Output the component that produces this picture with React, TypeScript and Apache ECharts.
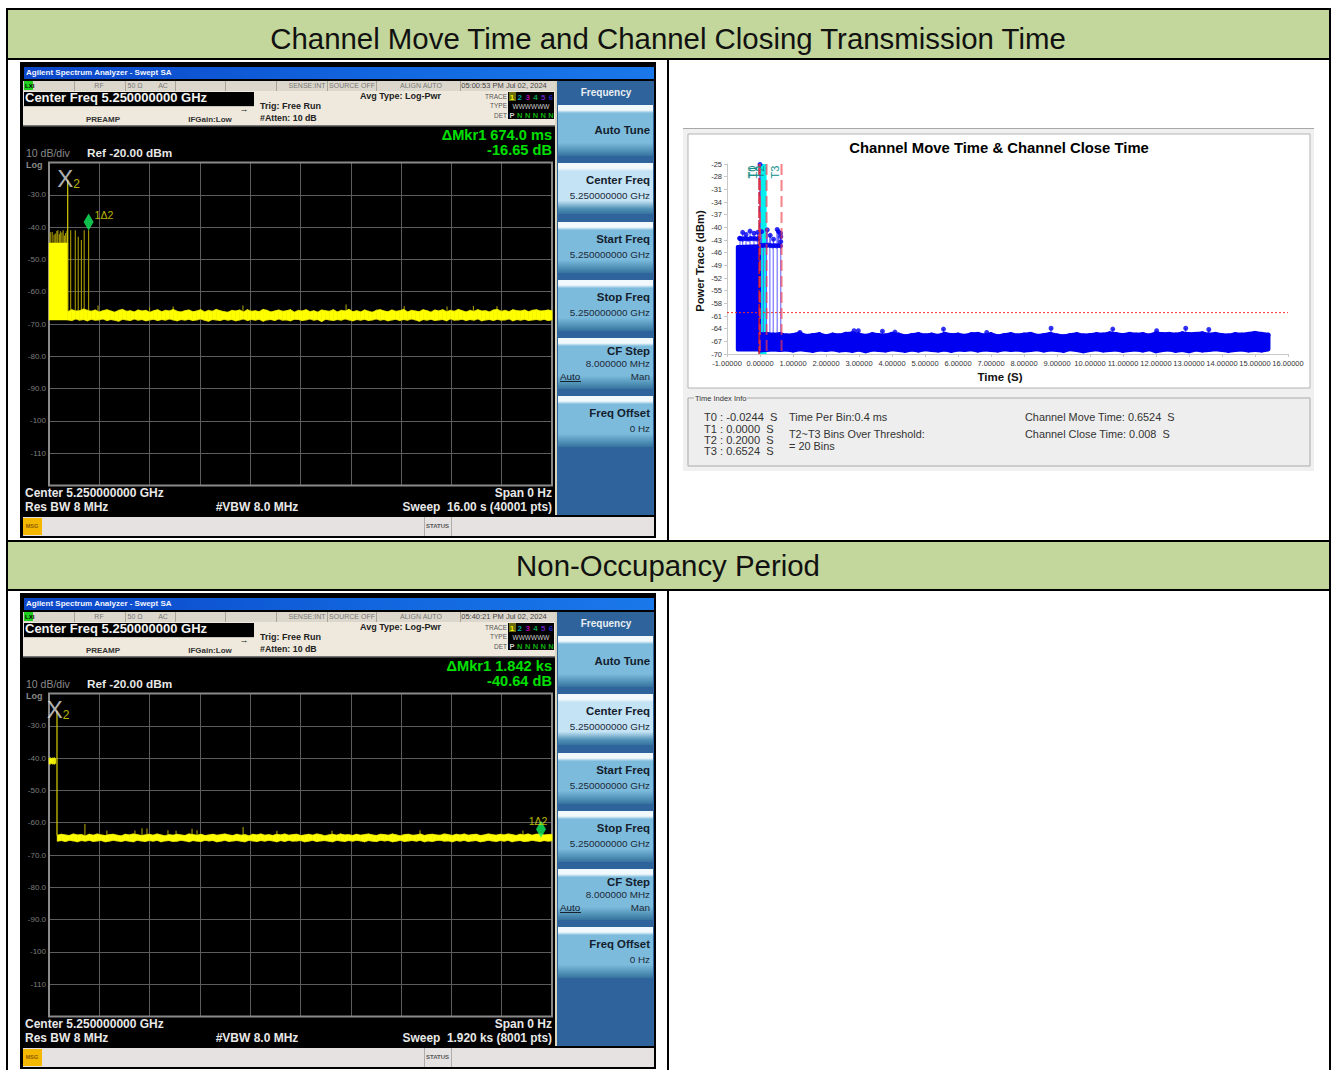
import React, { useEffect, useRef } from "react";
import * as echarts from "echarts";

const FONT = '"Liberation Sans", Arial, sans-serif';

// ---------- Swept-SA trace 1 (dBm vs seconds) ----------
const sweep1Seconds = 16;
const sweep1NoiseStart = 0.6;
const noise1Hi = [
  -66.2,-65.6,-66.0,-65.9,-65.4,-65.8,-66.1,-65.7,-66.3,-65.9,-65.6,-66.0,-66.4,-65.8,-65.5,-66.1,-65.9,-66.3,-65.7,-66.0,
  -65.8,-66.4,-65.9,-65.6,-66.2,-65.8,-66.0,-65.5,-66.1,-66.3,-65.9,-65.7,-66.2,-66.0,-65.6,-66.3,-65.8,-66.1,-65.5,-65.9,
  -66.2,-66.4,-65.8,-66.0,-65.7,-66.3,-65.6,-66.1,-65.9,-66.2,-65.5,-65.8,-66.3,-66.0,-65.7,-66.1,-65.9,-65.6,-66.4,-65.8,
  -66.0,-65.6,-66.2,-65.9,-66.4,-65.7,-65.9,-66.1,-65.6,-66.3,-65.8,-66.0,-65.5,-66.2,-65.9,-66.3,-65.7,-66.1,-66.4,-65.8,
  -65.6,-66.0,-66.2,-65.7,-66.1,-65.9,-65.5,-66.3,-65.8,-66.0,-66.2,-65.6,-65.9,-66.4,-65.7,-66.0,-65.6,-66.2,-65.8,-66.1,
  -65.5,-65.9,-66.3,-65.8,-66.1,-65.6,-66.0,-65.9,-66.3,-65.7,-65.5,-66.1,-65.8,-66.2,-65.6,-65.9,-66.0,-65.7,-66.2,-65.8,
  -65.6,-66.0,-65.9,-65.7,-65.9,
];
const noise1Lo = [
  -68.7,-68.9,-68.4,-68.8,-68.6,-69.0,-68.5,-68.8,-68.7,-68.4,-68.9,-68.6,-68.8,-69.1,-68.5,-68.7,-68.9,-68.4,-68.8,-68.6,
  -69.0,-68.7,-68.5,-68.9,-68.6,-68.8,-68.4,-68.7,-69.0,-68.6,-68.8,-68.5,-68.9,-68.7,-68.4,-68.8,-69.1,-68.6,-68.7,-68.9,
  -68.5,-68.8,-68.6,-69.0,-68.7,-68.4,-68.9,-68.6,-68.8,-68.5,-69.1,-68.7,-68.6,-68.9,-68.4,-68.8,-68.7,-69.0,-68.5,-68.6,
  -68.9,-68.7,-68.4,-68.8,-68.6,-69.2,-68.5,-68.7,-68.9,-68.6,-68.8,-68.4,-68.7,-69.0,-68.6,-68.8,-68.5,-68.9,-68.7,-68.4,
  -68.8,-68.6,-69.0,-68.7,-68.5,-68.9,-68.6,-68.8,-68.4,-68.7,-69.1,-68.6,-68.8,-68.5,-68.9,-68.7,-68.6,-69.0,-68.4,-68.8,
  -68.7,-68.5,-68.9,-68.6,-68.8,-68.4,-69.0,-68.7,-68.6,-68.9,-68.5,-68.8,-68.7,-68.4,-69.0,-68.6,-68.8,-68.5,-68.9,-68.7,
  -68.6,-68.8,-68.5,-68.9,-68.7,
];
// Burst block at the start of the sweep
const block1T = [0, 0.6];
const block1Hi = [-44.9, -44.9];
const block1Lo = [-68.8, -68.8];
const stems1T = [0.04,0.1,0.16,0.2,0.25,0.28,0.33,0.36,0.41,0.45,0.49,0.53,0.57,0.69,0.836,0.93,1.03,1.12,1.26,1.56,3.2,3.95,6.17,9.45,11.3,12.66,13.5,14.25];
const stems1Top = [-41.6,-41.5,-42.4,-42,-41.2,-41,-42.2,-41.3,-41.7,-41,-42.6,-41.8,-41.1,-41,-41,-43,-44,-41,-41,-64.3,-64.8,-64.6,-64.3,-64.0,-64.5,-64.6,-64.4,-64.5];
const stems1Base = [-45,-45,-45,-45,-45,-45,-45,-45,-45,-45,-45,-45,-45,-66,-66,-66,-66,-66,-66,-66,-66,-66,-66,-66,-66,-66,-66,-66];
const marker1X: [number, number, number] = [0.595, -25.4, -66];
const marker1Delta: [number, number] = [1.26, -38.4];

// ---------- Swept-SA trace 2 ----------
const sweep2Seconds = 1920;
const sweep2NoiseStart = 32;
const noise2Hi = [
  -63.9,-63.6,-63.8,-64.0,-63.5,-63.8,-63.7,-64.1,-63.6,-63.9,-63.5,-63.8,-64.0,-63.7,-63.6,-63.9,-64.1,-63.6,-63.8,-63.5,
  -63.7,-64.0,-63.8,-63.6,-63.9,-63.5,-63.8,-64.1,-63.7,-63.9,-63.6,-63.8,-64.0,-63.5,-63.7,-63.9,-63.6,-64.0,-63.8,-63.6,
  -63.9,-63.7,-63.5,-63.8,-64.0,-63.6,-63.9,-63.7,-64.1,-63.6,-63.8,-63.5,-63.9,-63.7,-64.0,-63.6,-63.8,-63.5,-63.9,-63.7,
  -63.6,-64.0,-63.8,-63.6,-63.9,-63.5,-63.7,-64.1,-63.8,-63.6,-63.9,-63.5,-63.8,-63.7,-64.0,-63.6,-63.9,-63.7,-63.5,-63.8,
  -64.0,-63.6,-63.7,-63.9,-63.5,-63.8,-64.1,-63.7,-63.6,-63.9,-63.8,-63.5,-64.0,-63.7,-63.6,-63.8,-63.9,-63.5,-63.7,-64.0,
  -63.6,-63.8,-63.5,-63.9,-63.7,-63.6,-64.0,-63.8,-63.5,-63.7,-63.9,-63.6,-63.8,-63.5,-63.7,-64.0,-63.6,-63.8,-63.5,-63.9,
  -63.6,-63.5,-63.8,-63.7,-63.6,
];
const noise2Lo = [
  -65.7,-65.5,-65.8,-65.4,-65.6,-65.9,-65.5,-65.7,-65.4,-65.8,-65.6,-65.5,-65.9,-65.7,-65.4,-65.6,-65.8,-65.5,-65.7,-65.9,
  -65.4,-65.6,-65.8,-65.5,-65.7,-65.4,-65.9,-65.6,-65.5,-65.8,-65.7,-65.4,-65.6,-65.9,-65.5,-65.7,-65.8,-65.4,-65.6,-65.5,
  -65.9,-65.7,-65.4,-65.8,-65.6,-65.5,-65.7,-65.9,-65.4,-65.6,-65.8,-65.5,-65.7,-65.4,-65.6,-65.9,-65.5,-65.8,-65.4,-65.7,
  -65.6,-65.5,-65.9,-65.7,-65.4,-65.8,-65.6,-65.5,-65.7,-65.9,-65.4,-65.6,-65.8,-65.5,-65.7,-65.4,-65.6,-65.9,-65.5,-65.7,
  -65.8,-65.4,-65.6,-65.5,-65.9,-65.7,-65.4,-65.8,-65.6,-65.5,-65.7,-65.4,-65.9,-65.6,-65.8,-65.5,-65.4,-65.7,-65.6,-65.9,
  -65.5,-65.7,-65.4,-65.8,-65.6,-65.5,-65.9,-65.7,-65.4,-65.6,-65.8,-65.5,-65.7,-65.4,-65.9,-65.6,-65.5,-65.8,-65.7,-65.4,
  -65.6,-65.8,-65.5,-65.7,-65.6,
];
const block2T = [0, 4, 8, 12, 16, 20, 24, 26];
const block2Hi = [-40.2, -39.8, -40.3, -39.9, -40.2, -39.8, -40.3, -40.0];
const block2Lo = [-41.6, -42.0, -41.5, -41.9, -41.6, -42.0, -41.5, -41.8];
const stems2T = [137,221,328,355,374,454,485,546,565,741,870,1080,1416,1809];
const stems2Top = [-60.4,-62.4,-62.4,-61.7,-61.8,-62.3,-62.5,-61.9,-62.3,-61.3,-62.5,-62.5,-62.3,-62.4];
const stems2Base = stems2T.map(() => -64);
const marker2X: [number, number, number] = [30.5, -25.4, -64];
const marker2Delta: [number, number] = [1878, -62];

// ---------- Channel-move plot ----------
const xTicksRight = [-1,0,1,2,3,4,5,6,7,8,9,10,11,12,13,14,15,16];
const yTicksRight = [-70,-67,-64,-61,-58,-55,-52,-49,-46,-43,-40,-37,-34,-31,-28,-25];
const thresholdDbm = -60.2;
const bandTimes = [
  0.0,0.2,0.4,0.6,0.8,1.0,1.2,1.4,1.6,1.8,2.0,2.2,2.4,2.6,2.8,3.0,3.2,3.4,3.6,3.8,4.0,4.2,4.4,
  4.6,4.8,5.0,5.2,5.4,5.6,5.8,6.0,6.2,6.4,6.6,6.8,7.0,7.2,7.4,7.6,7.8,8.0,8.2,8.4,
  8.6,8.8,9.0,9.2,9.4,9.6,9.8,10.0,10.2,10.4,10.6,10.8,11.0,11.2,11.4,11.6,11.8,12.0,12.2,12.4,
  12.6,12.8,13.0,13.2,13.4,13.6,13.8,14.0,14.2,14.4,14.6,14.8,15.0,15.2,15.4,
];
const bandHi = [
  -65.4,-65.3,-65.5,-65.4,-65.7,-65.6,-65.2,-65.8,-65.6,-65.4,-65.9,-65.5,-65.7,-65.3,-65.2,-65.5,-65.8,-65.4,-65.6,-65.7,-65.3,-65.5,-65.9,
  -65.6,-65.4,-65.7,-65.5,-65.8,-65.3,-65.6,-65.5,-65.8,-65.4,-65.3,-65.7,-65.4,-65.9,-65.6,-65.4,-65.7,-65.5,-65.3,-65.8,
  -65.6,-65.3,-65.7,-65.9,-65.6,-65.4,-65.7,-65.6,-65.4,-65.5,-65.2,-65.4,-65.6,-65.3,-65.5,-65.4,-65.7,-65.2,-65.4,-65.3,
  -65.5,-65.2,-65.4,-65.3,-65.2,-65.5,-65.3,-65.6,-65.7,-65.4,-65.5,-65.3,-65.1,-65.3,-65.5,
];
const bandLo = [
  -69.1,-69.0,-68.9,-69.0,-68.9,-69.1,-68.8,-69.0,-69.2,-68.9,-69.0,-68.8,-69.1,-69.0,-69.2,-68.9,-69.3,-68.9,-69.0,-69.1,-68.8,-69.0,-69.2,
  -68.9,-69.1,-68.8,-69.0,-69.1,-68.9,-69.2,-68.9,-69.0,-68.8,-69.1,-68.9,-69.0,-69.1,-68.8,-69.0,-68.9,-69.1,-69.0,-68.8,
  -69.1,-68.9,-69.0,-69.2,-68.8,-69.0,-69.3,-69.0,-68.8,-69.1,-69.0,-68.9,-69.2,-69.0,-68.9,-69.1,-68.8,-69.3,-69.0,-68.9,
  -69.2,-69.0,-69.3,-68.9,-69.1,-69.0,-68.8,-69.0,-69.2,-69.0,-68.9,-69.1,-69.0,-69.1,-68.9,
];
const blockRightT = [-0.68, -0.02];
const blockRightHi = [-44.6, -44.4];
const blockRightLo = [-69.0, -69.0];
const rowPeaksT = [-0.62,-0.58,-0.52,-0.46,-0.4,-0.34,-0.28,-0.22,-0.16,-0.1,-0.05,0.02,0.08,0.14,0.2,0.26,0.32,0.38,0.44,0.5,0.56,0.62];
const rowPeaksV = [-42.6,-42.7,-42.8,-42.6,-42.7,-42.8,-42.6,-42.7,-42.6,-42.8,-42.6,-44.2,-44.3,-44.2,-44.3,-44.2,-44.3,-44.4,-44.3,-44.4,-44.3,-44.4];
const peaksT = [-0.606,-0.525,-0.424,-0.303,-0.182,-0.071,0.0,0.05,0.22,0.31,0.41,0.52,0.56,0.62,0.63,0.63,1.21,2.85,2.98,3.71,4.09,5.56,6.87,8.82,10.69,12.02,12.9,13.6];
const peaksV = [-42.6,-41.2,-41.7,-40.9,-41.4,-41.2,-25.1,-41,-40.6,-41.9,-42.8,-40.5,-41,-41.4,-42.2,-43.4,-64.9,-64.5,-64.5,-64.6,-64.8,-64.1,-64.9,-63.9,-64.1,-64.5,-63.9,-64.2];
const pulseStemT = [0.0,0.1,0.2,0.3,0.4,0.52,0.63];
const pulseStemTop = [-25.1,-44.2,-41,-41.9,-42.8,-40.5,-41.4];
const timeNames = ["T0","T1","T2","T3"];
const timeValues = [-0.0244,0,0.2,0.6524];

// ---------- Page texts ----------
const softKeys1 = [
  { y: 105, title: "Auto Tune", sub: "" },
  { y: 163, title: "Center Freq", sub: "5.250000000 GHz", on: true },
  { y: 222, title: "Start Freq", sub: "5.250000000 GHz" },
  { y: 280, title: "Stop Freq", sub: "5.250000000 GHz" },
  { y: 338, title: "CF Step", sub: "8.000000 MHz" },
  { y: 396, title: "Freq Offset", sub: "0 Hz" },
];

// ---------- helpers ----------
const T = (x: number, y: number, text: string, size: number, fill: string, o: any = {}) => ({
  type: "text", x, y, z: 30, silent: true,
  style: {
    text, fill, fontSize: size, fontFamily: o.family || FONT, fontWeight: o.bold ? "bold" : "normal",
    textAlign: o.align || "left", textVerticalAlign: "middle",
  },
  ...(o.rotation ? { rotation: o.rotation } : {}),
});
const R = (x: number, y: number, w: number, h: number, fill: any, o: any = {}) => ({
  type: "rect", x, y, z: o.z ?? 1, silent: true,
  shape: { x: 0, y: 0, width: w, height: h },
  style: { fill, stroke: o.stroke || null, lineWidth: o.lw || 0 },
});
const grad = (stops: [number, string][]) =>
  new echarts.graphic.LinearGradient(0, 0, 0, 1, stops.map(([offset, color]) => ({ offset, color })));

function panel(dy: number, time: string, mk1: string, mk2: string, sweep: string): any[] {
  const e: any[] = [];
  e.push(R(20, 62 + dy, 636, 476, "#000"));
  e.push(R(24, 67 + dy, 630, 12, new echarts.graphic.LinearGradient(0, 0, 1, 0, [
    { offset: 0, color: "#0b46c8" }, { offset: 0.6, color: "#1268e0" }, { offset: 1, color: "#1a78ea" },
  ])));
  e.push(T(26, 72.5 + dy, "Agilent Spectrum Analyzer - Swept SA", 8, "#f0f4ff", { bold: true }));
  e.push(R(23, 81 + dy, 532, 10, "#dcd7cc"));
  e.push(R(24, 81 + dy, 9, 9, "#1fd01f"));
  e.push(T(25, 86 + dy, "LXI", 6, "#000", { bold: true }));
  [74, 125, 175, 225, 276, 327, 376, 460].forEach((x) => e.push(R(x, 81 + dy, 1, 10, "#a8a49a")));
  [["RF", 99], ["50 Ω", 135], ["AC", 163], ["SENSE:INT", 307], ["SOURCE OFF", 352], ["ALIGN AUTO", 421]].forEach(([s, x]) =>
    e.push(T(x as number, 85.5 + dy, s as string, 7, "#777", { align: "center" })));
  e.push(T(504, 85.5 + dy, time, 7.5, "#444", { align: "center" }));
  e.push(R(23, 91 + dy, 532, 34, "#efe9dd"));
  e.push(R(24, 92 + dy, 230, 14, "#000"));
  e.push(T(25, 97.5 + dy, "Center Freq 5.250000000 GHz", 13, "#f2f2f2", { bold: true }));
  e.push(R(23, 106 + dy, 231, 1, "#c8c4b8"));
  e.push(T(244, 109 + dy, "→", 9, "#222", { align: "center" }));
  e.push(T(260, 106 + dy, "Trig: Free Run", 9, "#222", { bold: true }));
  e.push(T(260, 118 + dy, "#Atten: 10 dB", 8.8, "#222", { bold: true }));
  e.push(T(103, 119 + dy, "PREAMP", 8, "#333", { bold: true, align: "center" }));
  e.push(T(210, 119 + dy, "IFGain:Low", 8, "#333", { bold: true, align: "center" }));
  e.push(T(360, 96 + dy, "Avg Type: Log-Pwr", 9, "#222", { bold: true }));
  e.push(T(507, 96 + dy, "TRACE", 6.5, "#555", { align: "right" }));
  e.push(T(507, 105 + dy, "TYPE", 6.5, "#555", { align: "right" }));
  e.push(T(507, 115 + dy, "DET", 6.5, "#555", { align: "right" }));
  e.push(R(508, 92 + dy, 46, 27, "#000"));
  e.push(R(509, 92 + dy, 7, 9, "#6b6b10"));
  ["1", "2", "3", "4", "5", "6"].forEach((s, i) =>
    e.push(T(512 + i * 7.8, 97 + dy, s, 8, ["#f0f000", "#00a8a8", "#b000b0", "#10a050", "#6020c0", "#2020c0"][i], { bold: true, align: "center" })));
  e.push(T(531, 106 + dy, "WWWWWW", 6.5, "#d0d0d0", { align: "center" }));
  ["P", "N", "N", "N", "N", "N"].forEach((s, i) =>
    e.push(T(512 + i * 7.8, 115 + dy, s, 7.5, i ? "#10b010" : "#d0d0d0", { bold: true, align: "center" })));
  e.push(R(23, 125 + dy, 532, 1.5, "#777"));
  e.push(T(552, 135 + dy, mk1, 14.6, "#00e000", { bold: true, align: "right" }));
  e.push(T(552, 150 + dy, mk2, 14.6, "#00e000", { bold: true, align: "right" }));
  e.push(T(26, 153 + dy, "10 dB/div", 10.5, "#8a8a8a"));
  e.push(T(26, 164.5 + dy, "Log", 9, "#8a8a8a", { bold: true }));
  e.push(T(87, 153 + dy, "Ref -20.00 dBm", 11.8, "#e8e8e8", { bold: true }));
  e.push(R(49, 162.5 + dy, 503, 323, "rgba(0,0,0,0)", { stroke: "#8a8a8a", lw: 2, z: 4 }));
  e.push(T(25, 493 + dy, "Center 5.250000000 GHz", 12, "#e8e8e8", { bold: true }));
  e.push(T(25, 507 + dy, "Res BW 8 MHz", 12, "#e8e8e8", { bold: true }));
  e.push(T(257, 507 + dy, "#VBW 8.0 MHz", 12, "#e8e8e8", { bold: true, align: "center" }));
  e.push(T(552, 493 + dy, "Span 0 Hz", 12, "#e8e8e8", { bold: true, align: "right" }));
  e.push(T(552, 507 + dy, sweep, 11.9, "#e8e8e8", { bold: true, align: "right" }));
  // soft keys
  e.push(R(555, 81 + dy, 2, 434, "#d8d4c0"));
  e.push(R(557, 81 + dy, 97, 434, "#2e639b"));
  e.push(T(606, 92 + dy, "Frequency", 10, "#e8eef4", { bold: true, align: "center" }));
  softKeys1.forEach((k) => {
    const main = k.on ? "#c4e3f4" : "#7cbbdc";
    e.push(R(558, k.y + dy, 95, 51, grad([
      [0, "#f2f9fd"], [0.1, "#f2f9fd"], [0.16, main], [0.74, main], [0.9, "#4f90b6"], [1, "#36739f"],
    ])));
    e.push(T(650, (k.title === "Auto Tune" ? 25 : k.title === "CF Step" ? 13 : 17) + k.y + dy, k.title, 11.4, "#14202c", { bold: true, align: "right" }));
    if (k.sub) e.push(T(650, (k.title === "CF Step" ? 25.5 : 32.5) + k.y + dy, k.sub, 9.9, "#1c2a38", { align: "right" }));
  });
  e.push(T(560, 376 + dy, "Auto", 9.9, "#14202c"));
  e.push(R(560, 381 + dy, 21, 1, "#14202c", { z: 30 }));
  e.push(T(650, 376 + dy, "Man", 9.9, "#1c2a38", { align: "right" }));
  // status line
  e.push(R(23, 517 + dy, 631, 19, "#e6e2e2"));
  e.push(R(23, 518 + dy, 19, 17, "#f5b800"));
  e.push(T(32, 526 + dy, "MSG", 5.5, "#8a5a00", { bold: true, align: "center" }));
  e.push(R(424, 517 + dy, 1, 19, "#b0acac"));
  e.push(R(451, 517 + dy, 1, 19, "#b0acac"));
  e.push(T(437.5, 526 + dy, "STATUS", 6, "#555", { bold: true, align: "center" }));
  return e;
}

// A filled polygon between successive (t, hi, lo) samples, through the axis scales.
const bandRender = (fill: string, stroke: string, lw: number) => (_: any, api: any) => {
  const a = api.coord([api.value(0), api.value(1)]);
  const b = api.coord([api.value(3), api.value(4)]);
  const c = api.coord([api.value(3), api.value(5)]);
  const d = api.coord([api.value(0), api.value(2)]);
  return {
    type: "polygon",
    shape: { points: [a, b, c, d] },
    style: { fill, stroke, lineWidth: lw, lineJoin: "round" },
  };
};
const stemRender = (stroke: string, lw: number) => (_: any, api: any) => {
  const a = api.coord([api.value(0), api.value(1)]);
  const b = api.coord([api.value(0), api.value(2)]);
  return { type: "line", shape: { x1: a[0], y1: a[1], x2: b[0], y2: b[1] }, style: { stroke, lineWidth: lw } };
};
const segs = (t: number[], hi: number[], lo: number[]) =>
  t.slice(0, -1).map((v, i) => [v, hi[i], lo[i], t[i + 1], hi[i + 1], lo[i + 1]]);

const sweepTimes = (start: number, end: number, n: number) =>
  Array.from({ length: n }, (_, i) => start + ((end - start) * i) / (n - 1));

function analyzerSeries(ax: number, t: number[], hi: number[], lo: number[], blockT: number[], blockHi: number[], blockLo: number[],
  sT: number[], sTop: number[], sBase: number[], mX: number[], mD: number[], deltaLabelPos: any) {
  const base = { coordinateSystem: "cartesian2d", xAxisIndex: ax, yAxisIndex: ax, silent: true };
  return [
    { ...base, type: "custom", name: "spikes", z: 5, renderItem: stemRender("#a89c00", 1.1), encode: { x: 0, y: [1, 2] },
      data: sT.map((v, i) => [v, sTop[i], sBase[i]]) },
    { ...base, type: "custom", name: "fringe", z: 6, renderItem: bandRender("#a8a000", "#a8a000", 1.2), encode: { x: [0, 3], y: [1, 2] },
      data: segs(t, hi, lo) },
    { ...base, type: "custom", name: "trace", z: 7, renderItem: bandRender("#ffff00", "#ffff00", 0.4), encode: { x: [0, 3], y: [1, 2] },
      data: segs(t, hi, lo) },
    { ...base, type: "custom", name: "burst", z: 7, renderItem: bandRender("#ffff00", "#ffff00", 0.4), encode: { x: [0, 3], y: [1, 2] },
      data: segs(blockT, blockHi, blockLo) },
    { ...base, type: "custom", name: "X marker", z: 8, renderItem: stemRender("#d8d000", 1.2), encode: { x: 0, y: [1, 2] },
      data: [mX] },
    { ...base, type: "scatter", name: "X label", z: 9, symbolSize: 0,
      data: [[mX[0], mX[1]]],
      label: { show: true, position: "top", distance: -11, formatter: "{x|X}{s|2}", offset: [1, 0],
        rich: { x: { fontSize: 24, color: "#e0e0e0", fontFamily: FONT }, s: { fontSize: 12, color: "#e8e000", fontFamily: FONT, padding: [10, 0, 0, 0] } } } },
    { ...base, type: "scatter", name: "Delta marker", z: 10, symbol: "diamond", symbolSize: [10, 17],
      itemStyle: { color: "#14f060" }, data: [mD],
      label: { show: true, formatter: "1Δ2", color: "#e8e000", fontSize: 10.5, fontFamily: FONT, ...deltaLabelPos } },
  ];
}

export default function App() {
  const ref = useRef<HTMLDivElement>(null);
  useEffect(() => {
    const chart = echarts.init(ref.current!, undefined, { renderer: "svg" });
    const g: any[] = [];
    // page table
    g.push(R(6, 8, 1325, 1062, "#000"));
    g.push(R(8, 10, 1321, 1060, "#fff"));
    g.push(R(8, 10, 1321, 48, "#c3d69b"));
    g.push(R(8, 58, 1321, 2, "#000"));
    g.push(R(8, 540, 1321, 2, "#000"));
    g.push(R(8, 542, 1321, 47, "#c3d69b"));
    g.push(R(8, 589, 1321, 2, "#000"));
    g.push(R(667, 60, 2, 480, "#000"));
    g.push(R(667, 591, 2, 479, "#000"));
    g.push(T(668, 38.5, "Channel Move Time and Channel Closing Transmission Time", 29.4, "#111", { align: "center" }));
    g.push(T(668, 565.5, "Non-Occupancy Period", 29.4, "#111", { align: "center" }));
    g.push(...panel(0, "05:00:53 PM Jul 02, 2024", "ΔMkr1 674.0 ms", "-16.65 dB", "Sweep  16.00 s (40001 pts)"));
    g.push(...panel(531, "05:40:21 PM Jul 02, 2024", "ΔMkr1 1.842 ks", "-40.64 dB", "Sweep  1.920 ks (8001 pts)"));
    // right-hand window
    g.push(R(683, 128, 631, 343, "#f0f0f0"));
    g.push(R(683, 128, 631, 1, "#a8a8a8"));
    g.push(R(688, 134, 622, 254, "#fff", { stroke: "#b4b4b4", lw: 1 }));
    g.push(T(999, 148, "Channel Move Time & Channel Close Time", 14.85, "#000", { bold: true, align: "center" }));
    g.push(T(700, 261, "Power Trace (dBm)", 11.2, "#111", { bold: true, align: "center", rotation: Math.PI / 2 }));
    g.push(T(1000, 377, "Time (S)", 11.5, "#111", { bold: true, align: "center" }));
    g.push(R(688, 398, 622, 68, "#eeeeee", { stroke: "#aaa", lw: 1 }));
    g.push(R(694, 394, 53, 8, "#f0f0f0", { z: 2 }));
    g.push(T(695, 398, "Time Index Info", 7.5, "#333"));
    [["T0 : -0.0244  S", 417], ["T1 : 0.0000  S", 428.5], ["T2 : 0.2000  S", 440], ["T3 : 0.6524  S", 451]].forEach(([s, y]) =>
      g.push(T(704, y as number, s as string, 11.1, "#333")));
    g.push(T(789, 417, "Time Per Bin:0.4 ms", 10.9, "#333"));
    g.push(T(789, 434, "T2~T3 Bins Over Threshold:", 10.8, "#333"));
    g.push(T(789, 446, "= 20 Bins", 10.9, "#333"));
    g.push(T(1025, 417, "Channel Move Time: 0.6524  S", 10.9, "#333"));
    g.push(T(1025, 434, "Channel Close Time: 0.008  S", 10.9, "#333"));

    const specX = (i: number, max: number) => ({
      type: "value", gridIndex: i, min: 0, max, interval: max / 10, z: 3, silent: true,
      axisLine: { show: false }, axisTick: { show: false }, axisLabel: { show: false },
      splitLine: { show: true, lineStyle: { color: "#5c5c5c", width: 1 } },
    });
    const specY = (i: number) => ({
      type: "value", gridIndex: i, min: -120, max: -20, interval: 10, z: 3, silent: true,
      axisLine: { show: false }, axisTick: { show: false },
      axisLabel: { show: true, color: "#7e7e7e", fontSize: 8, fontFamily: FONT, margin: 3,
        formatter: (v: number) => (v === -20 || v === -120 ? "" : v > -100 ? v.toFixed(1) : String(v)) },
      splitLine: { show: true, lineStyle: { color: "#5c5c5c", width: 1 } },
    });

    const rightBase = { coordinateSystem: "cartesian2d", xAxisIndex: 2, yAxisIndex: 2, silent: true };
    const option: any = {
      animation: false,
      backgroundColor: "#fff",
      tooltip: { show: false },
      legend: { show: false },
      graphic: { elements: g },
      grid: [
        { left: 49, top: 162.5, width: 503, height: 323, show: false },
        { left: 49, top: 693.5, width: 503, height: 323, show: false },
        { left: 727, top: 164, width: 561, height: 190, show: false },
      ],
      xAxis: [
        specX(0, sweep1Seconds),
        specX(1, sweep2Seconds),
        { type: "value", gridIndex: 2, min: -1, max: 16, interval: 1, z: 3, silent: true,
          axisLine: { show: true, onZero: false, lineStyle: { color: "#c8c8c8" } },
          axisTick: { show: true, length: 3, lineStyle: { color: "#c8c8c8" } },
          axisLabel: { color: "#333", fontSize: 7.5, fontFamily: FONT, margin: 5, formatter: (v: number) => v.toFixed(5), hideOverlap: false,
            customValues: xTicksRight },
          splitLine: { show: false } },
      ],
      yAxis: [
        specY(0),
        specY(1),
        { type: "value", gridIndex: 2, min: -70, max: -25, z: 3, silent: true,
          axisLine: { show: true, onZero: false, lineStyle: { color: "#c8c8c8" } },
          axisTick: { show: true, length: 3, lineStyle: { color: "#c8c8c8" }, customValues: yTicksRight },
          axisLabel: { color: "#333", fontSize: 7.5, fontFamily: FONT, margin: 5, customValues: yTicksRight },
          splitLine: { show: false } },
      ],
      series: [
        ...analyzerSeries(0, sweepTimes(sweep1NoiseStart, sweep1Seconds, noise1Hi.length), noise1Hi, noise1Lo,
          block1T, block1Hi, block1Lo, stems1T, stems1Top, stems1Base, marker1X, marker1Delta,
          { position: "right", distance: 1, offset: [0, -7] }),
        ...analyzerSeries(1, sweepTimes(sweep2NoiseStart, sweep2Seconds, noise2Hi.length), noise2Hi, noise2Lo,
          block2T, block2Hi, block2Lo, stems2T, stems2Top, stems2Base, marker2X, marker2Delta,
          { position: "top", distance: -6, offset: [-3, 0] }),
        // right plot
        { ...rightBase, type: "custom", name: "T1-T2 range", z: 4, renderItem: bandRender("#00f0f0", "#00f0f0", 0), encode: { x: [0, 3], y: [1, 2] },
          data: [[timeValues[1], -25, -70, timeValues[2], -25, -70]] },
        { ...rightBase, type: "custom", name: "blue stems", z: 6, renderItem: stemRender("#5a5aff", 1), encode: { x: 0, y: [1, 2] },
          data: [
            ...pulseStemT.map((v, i) => [v, pulseStemTop[i], -66]),
            ...peaksT.map((v, i) => [v, peaksV[i], v < 0.7 ? -44.5 : -66]),
          ] },
        { ...rightBase, type: "custom", name: "noise", z: 7, renderItem: bandRender("#0000f0", "#0000f0", 4.5), encode: { x: [0, 3], y: [1, 2] },
          data: segs(bandTimes, bandHi, bandLo) },
        { ...rightBase, type: "custom", name: "burst", z: 7, renderItem: bandRender("#0000f0", "#0000f0", 3.5), encode: { x: [0, 3], y: [1, 2] },
          data: segs(blockRightT, blockRightHi, blockRightLo) },
        { ...rightBase, type: "scatter", name: "row peaks", z: 8, symbolSize: 5, itemStyle: { color: "#0000f0" },
          data: rowPeaksT.map((v, i) => [v, rowPeaksV[i]]) },
        { ...rightBase, type: "scatter", name: "peaks", z: 8, symbolSize: 5, itemStyle: { color: "#0000f0" },
          data: peaksT.map((v, i) => [v, peaksV[i]]) },
        { ...rightBase, type: "scatter", name: "band tops", z: 8, symbolSize: 5, itemStyle: { color: "#0000f0" },
          data: bandTimes.map((v, i) => [v, bandHi[i]]) },
        { ...rightBase, type: "line", name: "threshold", z: 9, showSymbol: false, symbol: "none",
          lineStyle: { color: "#f03030", width: 1, type: [2, 2] },
          data: [[-1, thresholdDbm], [16, thresholdDbm]] },
        { ...rightBase, type: "custom", name: "time index", z: 10, encode: { x: 0 },
          renderItem: (_: any, api: any) => {
            const i = api.value(1) as number;
            const top = api.coord([api.value(0), -25]);
            const bot = api.coord([api.value(0), -70]);
            return {
              type: "group",
              children: [
                { type: "line", shape: { x1: top[0], y1: top[1], x2: bot[0], y2: bot[1] },
                  style: { stroke: i === 0 ? "rgba(200,20,50,0.85)" : "rgba(245,60,70,0.65)", lineWidth: 2, lineDash: i === 0 ? [12, 2] : [11, 5] } },
                { type: "text", x: top[0] - 7, y: top[1] + 8, rotation: Math.PI / 2,
                  style: { text: timeNames[i], fill: "#0f8f88", fontSize: 11, fontFamily: FONT, textAlign: "center", textVerticalAlign: "middle" } },
              ],
            };
          },
          data: timeValues.map((v, i) => [v, i]) },
      ],
    };
    chart.setOption(option);
    return () => chart.dispose();
  }, []);
  return <div ref={ref} style={{ position: "absolute", left: 0, top: 0, width: 1335, height: 1070 }} />;
}
